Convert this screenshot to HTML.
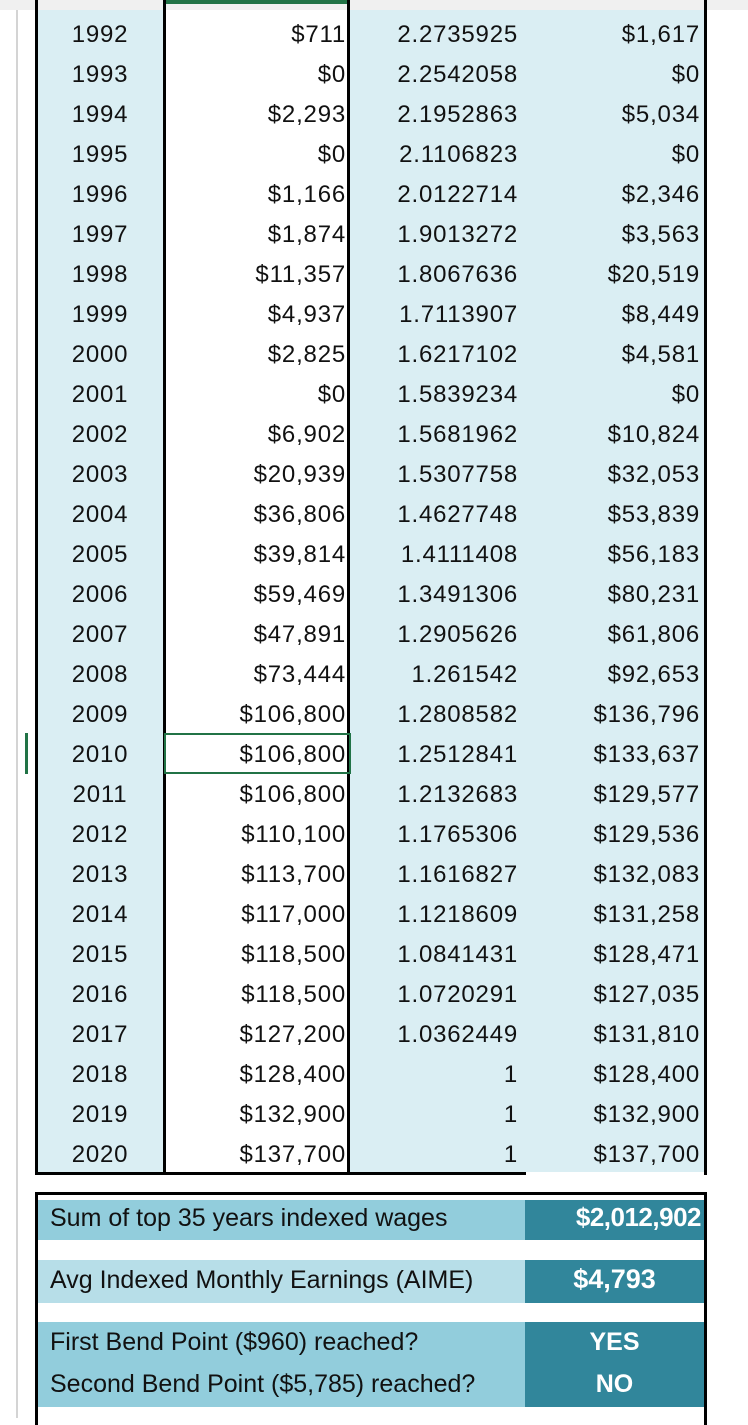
<!DOCTYPE html>
<html><head><meta charset="utf-8">
<style>
html,body{margin:0;padding:0;background:#fff;}
body{width:748px;height:1418px;position:relative;overflow:hidden;font-family:"Liberation Sans",sans-serif;color:#111;}
.abs{position:absolute;}
.cell{position:absolute;height:40px;line-height:40px;font-size:24px;letter-spacing:0.8px;white-space:nowrap;}
.sum{position:absolute;font-size:25px;white-space:nowrap;}
</style></head>
<body>
<div class="abs" style="left:16px;top:0;width:2px;height:1418px;background:#d4d4d4"></div>
<div class="abs" style="left:0;top:0;width:748px;height:10px;background:#f0f0f0"></div>
<div class="abs" style="left:37px;top:10px;width:128px;height:1162px;background:#daeef3"></div>
<div class="abs" style="left:165px;top:10px;width:184px;height:1162px;background:#fff"></div>
<div class="abs" style="left:349px;top:10px;width:356px;height:1162px;background:#daeef3"></div>
<div class="abs" style="left:165px;top:0;width:184px;height:4px;background:#217346"></div>
<div id="rows"></div>
<div class="abs" style="left:35px;top:0;width:3px;height:1175px;background:#000"></div>
<div class="abs" style="left:163px;top:0;width:3px;height:1175px;background:#000"></div>
<div class="abs" style="left:347px;top:0;width:3px;height:1175px;background:#000"></div>
<div class="abs" style="left:704px;top:0;width:3px;height:1175px;background:#000"></div>
<div class="abs" style="left:35px;top:1172px;width:491px;height:3px;background:#000"></div>
<div class="abs" style="left:164px;top:733px;width:183px;height:37px;border:2px solid #217346"></div>
<div class="abs" style="left:25px;top:733px;width:3px;height:41px;background:#217346"></div>

<div class="abs" style="left:35px;top:1192px;width:666px;height:230px;border:3px solid #000;border-bottom:none;background:#fff">
  <div class="abs" style="left:0;top:5px;width:487px;height:40px;background:#92cddc"></div>
  <div class="abs" style="left:487px;top:5px;width:179px;height:40px;background:#31869b"></div>
  <div class="abs" style="left:0;top:65px;width:487px;height:43px;background:#b7dee8"></div>
  <div class="abs" style="left:487px;top:65px;width:179px;height:43px;background:#31869b"></div>
  <div class="abs" style="left:0;top:127px;width:487px;height:85px;background:#92cddc"></div>
  <div class="abs" style="left:487px;top:127px;width:179px;height:85px;background:#31869b"></div>
  <div class="sum" style="left:12px;top:9px;">Sum of top 35 years indexed wages</div>
  <div class="sum" style="right:3px;top:7px;color:#fff;font-size:26px;font-weight:bold;letter-spacing:-0.5px;">$2,012,902</div>
  <div class="sum" style="left:12px;top:71px;">Avg Indexed Monthly Earnings (AIME)</div>
  <div class="sum" style="left:487px;width:179px;text-align:center;top:69px;color:#fff;font-size:27px;font-weight:bold;">$4,793</div>
  <div class="sum" style="left:12px;top:133px;">First Bend Point ($960) reached?</div>
  <div class="sum" style="left:487px;width:179px;text-align:center;top:133px;color:#fff;font-weight:bold;">YES</div>
  <div class="sum" style="left:12px;top:175px;">Second Bend Point ($5,785) reached?</div>
  <div class="sum" style="left:487px;width:179px;text-align:center;top:175px;color:#fff;font-weight:bold;">NO</div>
</div>

<script>
const years=[1992,1993,1994,1995,1996,1997,1998,1999,2000,2001,2002,2003,2004,2005,2006,2007,2008,2009,2010,2011,2012,2013,2014,2015,2016,2017,2018,2019,2020];
const earnings=["$711","$0","$2,293","$0","$1,166","$1,874","$11,357","$4,937","$2,825","$0","$6,902","$20,939","$36,806","$39,814","$59,469","$47,891","$73,444","$106,800","$106,800","$106,800","$110,100","$113,700","$117,000","$118,500","$118,500","$127,200","$128,400","$132,900","$137,700"];
const factors=["2.2735925","2.2542058","2.1952863","2.1106823","2.0122714","1.9013272","1.8067636","1.7113907","1.6217102","1.5839234","1.5681962","1.5307758","1.4627748","1.4111408","1.3491306","1.2905626","1.261542","1.2808582","1.2512841","1.2132683","1.1765306","1.1616827","1.1218609","1.0841431","1.0720291","1.0362449","1","1","1"];
const indexed=["$1,617","$0","$5,034","$0","$2,346","$3,563","$20,519","$8,449","$4,581","$0","$10,824","$32,053","$53,839","$56,183","$80,231","$61,806","$92,653","$136,796","$133,637","$129,577","$129,536","$132,083","$131,258","$128,471","$127,035","$131,810","$128,400","$132,900","$137,700"];
const host=document.getElementById('rows');
function rowY(i){return 15+i*40;}
function mk(text,style,name){
  const d=document.createElement('div');
  d.className='cell';
  d.textContent=text;
  d.setAttribute('style',style);
  
  
  host.appendChild(d);
}
years.forEach((y,i)=>{
  const t=rowY(i);
  mk(String(y),'left:50px;width:100px;text-align:center;top:'+t+'px','year-cell');
  mk(earnings[i],'right:'+(748-346)+'px;top:'+t+'px','earnings-cell');
  mk(factors[i],'right:'+(748-518)+'px;top:'+t+'px','index-factor-cell');
  mk(indexed[i],'right:'+(748-700)+'px;top:'+t+'px','indexed-wage-cell');
});
</script>
</body></html>
